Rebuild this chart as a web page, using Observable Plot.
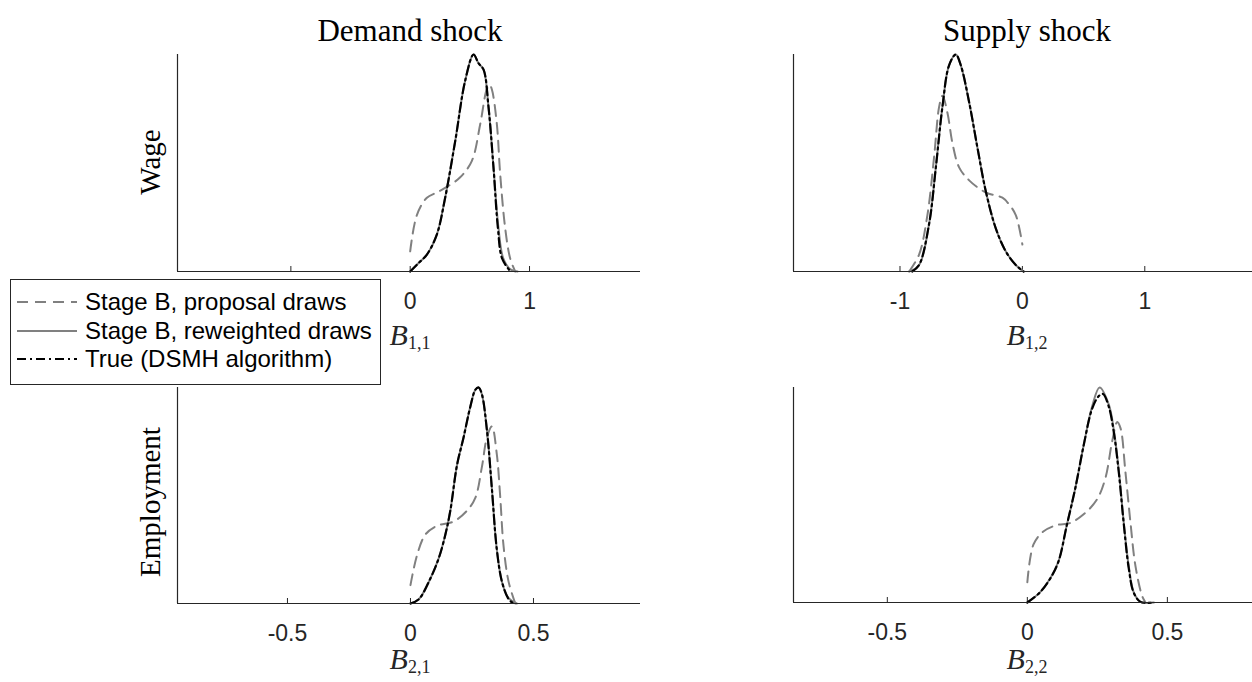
<!DOCTYPE html>
<html><head><meta charset="utf-8">
<script src="https://cdn.jsdelivr.net/npm/d3@7"></script>
<script src="https://cdn.jsdelivr.net/npm/@observablehq/plot@0.6"></script>
<style>
body{margin:0;background:#fff;}
#wrap{position:relative;width:1252px;height:682px;overflow:hidden;background:#fff;font-family:"Liberation Sans",Arial,sans-serif;color:#262626;}
.panel{position:absolute;}
.ttl{position:absolute;font-family:"Liberation Serif",serif;font-size:31px;color:#000;white-space:nowrap;transform:translate(-50%,-50%);line-height:1;}
.ylab{position:absolute;font-family:"Liberation Serif",serif;font-size:29px;color:#000;white-space:nowrap;transform:translate(-50%,-50%) rotate(-90deg);line-height:1;}
.xlab{position:absolute;font-family:"Liberation Serif",serif;font-size:30px;color:#262626;white-space:nowrap;transform:translate(-50%,-50%);line-height:1;}
.xlab i{font-style:italic;}
.xlab sub{font-style:normal;font-size:18px;vertical-align:-4px;line-height:0;}
#legend{position:absolute;left:10px;top:279px;width:369px;height:104px;border:1px solid #262626;background:#fff;}
.lrow{position:absolute;left:0;height:28px;display:flex;align-items:center;font-size:24px;color:#000;white-space:nowrap;}
.lrow svg{margin-left:6px;margin-right:8px;}
</style>
</head><body>
<div id="wrap"></div>
<script>
// ---- data (x = coefficient value, y = relative density) ----
const rowLabels = ["Wage", "Employment"];
const colLabels = ["Demand shock", "Supply shock"];
const seriesNames = ["Stage B, proposal draws", "Stage B, reweighted draws", "True (DSMH algorithm)"];

// Wage / Demand shock : B_{1,1}
const b11Proposal = [[0,0.093],[0.056,0.26],[0.14,0.34],[0.223,0.364],[0.307,0.39],[0.419,0.434],[0.517,0.51],[0.587,0.68],[0.642,0.84],[0.665,0.86],[0.684,0.84],[0.726,0.68],[0.754,0.45],[0.796,0.2],[0.838,0.06],[0.88,0]];
const b11Reweighted = [[0,0],[0.07,0.039],[0.14,0.078],[0.223,0.17],[0.293,0.34],[0.377,0.6],[0.461,0.88],[0.531,1],[0.572,0.96],[0.615,0.93],[0.656,0.76],[0.698,0.48],[0.74,0.2],[0.78,0.06],[0.84,0.01],[0.9,0]];
const b11True = [[0,0],[0.07,0.039],[0.14,0.078],[0.223,0.17],[0.293,0.34],[0.377,0.6],[0.461,0.88],[0.531,1],[0.572,0.96],[0.615,0.93],[0.656,0.76],[0.698,0.48],[0.735,0.2],[0.77,0.06],[0.84,0]];

// Wage / Supply shock : B_{1,2}
const b12Proposal = [[-0.925,0],[-0.844,0.078],[-0.776,0.26],[-0.721,0.53],[-0.68,0.76],[-0.653,0.81],[-0.612,0.73],[-0.571,0.59],[-0.517,0.48],[-0.435,0.42],[-0.299,0.364],[-0.163,0.34],[-0.11,0.31],[-0.054,0.26],[0,0.124]];
const b12Reweighted = [[-0.925,0],[-0.844,0.03],[-0.762,0.22],[-0.707,0.48],[-0.653,0.76],[-0.599,0.95],[-0.544,1],[-0.503,0.95],[-0.435,0.78],[-0.367,0.57],[-0.299,0.37],[-0.218,0.2],[-0.136,0.093],[-0.054,0.03],[0.01,0]];
const b12True = [[-0.9,0],[-0.844,0.03],[-0.762,0.22],[-0.707,0.48],[-0.653,0.76],[-0.599,0.95],[-0.544,1],[-0.503,0.95],[-0.435,0.78],[-0.367,0.57],[-0.299,0.37],[-0.218,0.2],[-0.136,0.093],[-0.054,0.03],[0.01,0]];

// Employment / Demand shock : B_{2,1}
const b21Proposal = [[0,0.085],[0.027,0.225],[0.061,0.32],[0.108,0.36],[0.176,0.38],[0.23,0.43],[0.264,0.49],[0.29,0.63],[0.311,0.77],[0.331,0.82],[0.351,0.69],[0.365,0.49],[0.378,0.27],[0.399,0.1],[0.426,0]];
const b21Reweighted = [[0,0],[0.034,0.02],[0.081,0.116],[0.115,0.21],[0.142,0.32],[0.162,0.43],[0.189,0.64],[0.216,0.77],[0.243,0.91],[0.264,0.99],[0.277,1],[0.29,0.97],[0.311,0.8],[0.331,0.53],[0.351,0.25],[0.372,0.1],[0.399,0.025],[0.432,0]];
const b21True = [[0,0],[0.034,0.02],[0.081,0.116],[0.115,0.21],[0.142,0.32],[0.162,0.43],[0.189,0.64],[0.216,0.77],[0.243,0.91],[0.264,0.99],[0.277,1],[0.29,0.97],[0.311,0.8],[0.331,0.53],[0.351,0.25],[0.372,0.1],[0.399,0.02],[0.419,0]];

// Employment / Supply shock : B_{2,2}
const b22Proposal = [[0,0.094],[0.022,0.27],[0.057,0.33],[0.105,0.36],[0.153,0.37],[0.201,0.41],[0.249,0.48],[0.279,0.58],[0.303,0.75],[0.321,0.84],[0.333,0.81],[0.35,0.61],[0.368,0.375],[0.386,0.17],[0.41,0.03],[0.422,0]];
const b22Reweighted = [[0,0],[0.045,0.047],[0.081,0.11],[0.111,0.19],[0.141,0.36],[0.171,0.53],[0.201,0.73],[0.231,0.91],[0.258,1],[0.291,0.92],[0.309,0.8],[0.327,0.61],[0.344,0.375],[0.362,0.17],[0.38,0.047],[0.404,0.003],[0.452,0]];
const b22True = [[0,0],[0.045,0.047],[0.081,0.11],[0.111,0.19],[0.141,0.36],[0.171,0.53],[0.201,0.73],[0.231,0.9],[0.255,0.96],[0.27,0.97],[0.291,0.91],[0.309,0.79],[0.327,0.6],[0.344,0.37],[0.362,0.16],[0.38,0.045],[0.404,0.003],[0.452,0]];

const ticksB11 = [-1, 0, 1];
const ticksB12 = [-1, 0, 1];
const ticksB21 = [-0.5, 0, 0.5];
const ticksB22 = [-0.5, 0, 0.5];
// tick labels that the legend box covers in the original figure
const hiddenB11 = [-1];

// ---- styles ----
const propStyle = {stroke: "#808080", strokeWidth: 2, strokeDasharray: "11,7"};
const rewStyle = {stroke: "#808080", strokeWidth: 2};
const trueStyle = {stroke: "#000", strokeWidth: 2.2, strokeDasharray: "9,4,2,4"};
const axisCol = "#262626";

const wrap = document.getElementById("wrap");

function panel({left, top, plotW, plotH, mR, xDomain, ticks, hidden = [], prop, rew, tru}) {
  const mL = 40, mT = 4, mB = 46;
  const chart = Plot.plot({
    width: mL + plotW + mR, height: mT + plotH + mB,
    marginLeft: mL, marginRight: mR, marginTop: mT, marginBottom: mB,
    x: {domain: xDomain},
    y: {domain: [0, 1], axis: null},
    style: {background: "transparent", color: axisCol, fontFamily: "'Liberation Sans', Arial, sans-serif", fontSize: "23px", overflow: "visible"},
    marks: [
      Plot.axisX({ticks, tickSize: -5, tickPadding: 26, tickFormat: d => hidden.includes(d) ? "" : String(d), label: null, stroke: axisCol, fill: axisCol, fontSize: 23}),
      Plot.line(prop, {x: d => d[0], y: d => d[1], curve: "catmull-rom", ...propStyle}),
      Plot.line(rew, {x: d => d[0], y: d => d[1], curve: "catmull-rom", ...rewStyle}),
      Plot.line(tru, {x: d => d[0], y: d => d[1], curve: "catmull-rom", ...trueStyle}),
      Plot.ruleY([0], {stroke: axisCol, strokeWidth: 1.2}),
      Plot.ruleX([xDomain[0]], {stroke: axisCol, strokeWidth: 1.2})
    ]
  });
  chart.classList.add("panel");
  chart.style.left = (left - mL) + "px";
  chart.style.top = (top - mT) + "px";
  wrap.appendChild(chart);
}

panel({left: 177, top: 54, plotW: 463, plotH: 217, mR: 20, xDomain: [-1.95, 1.93], ticks: ticksB11, hidden: hiddenB11, prop: b11Proposal, rew: b11Reweighted, tru: b11True});
panel({left: 793, top: 54, plotW: 459, plotH: 217, mR: 0, xDomain: [-1.87, 1.88], ticks: ticksB12, prop: b12Proposal, rew: b12Reweighted, tru: b12True});
panel({left: 177, top: 387, plotW: 463, plotH: 216, mR: 20, xDomain: [-0.947, 0.935], ticks: ticksB21, prop: b21Proposal, rew: b21Reweighted, tru: b21True});
panel({left: 793, top: 387, plotW: 459, plotH: 215, mR: 0, xDomain: [-0.835, 0.804], ticks: ticksB22, prop: b22Proposal, rew: b22Reweighted, tru: b22True});

// ---- text ----
function addDiv(cls, html, x, y) {
  const d = document.createElement("div");
  d.className = cls; d.innerHTML = html;
  d.style.left = x + "px"; d.style.top = y + "px";
  wrap.appendChild(d);
}
addDiv("ttl", colLabels[0], 410, 30);
addDiv("ttl", colLabels[1], 1027, 30);
addDiv("ylab", rowLabels[0], 150, 162);
addDiv("ylab", rowLabels[1], 150, 502);
addDiv("xlab", "<i>B</i><sub>1,1</sub>", 410, 335);
addDiv("xlab", "<i>B</i><sub>1,2</sub>", 1027, 335);
addDiv("xlab", "<i>B</i><sub>2,1</sub>", 410, 659);
addDiv("xlab", "<i>B</i><sub>2,2</sub>", 1027, 659);

// ---- legend ----
const legend = document.createElement("div");
legend.id = "legend";
const legStyles = [propStyle, rewStyle, trueStyle];
seriesNames.forEach((name, i) => {
  const row = document.createElement("div");
  row.className = "lrow";
  row.style.top = (8 + i * 28.5) + "px";
  const s = legStyles[i];
  row.innerHTML = `<svg width="60" height="10"><line x1="0" y1="5" x2="60" y2="5" stroke="${s.stroke}" stroke-width="${s.strokeWidth}" ${s.strokeDasharray ? `stroke-dasharray="${s.strokeDasharray}"` : ""}/></svg><span>${name}</span>`;
  legend.appendChild(row);
});
wrap.appendChild(legend);
</script>
</body></html>
